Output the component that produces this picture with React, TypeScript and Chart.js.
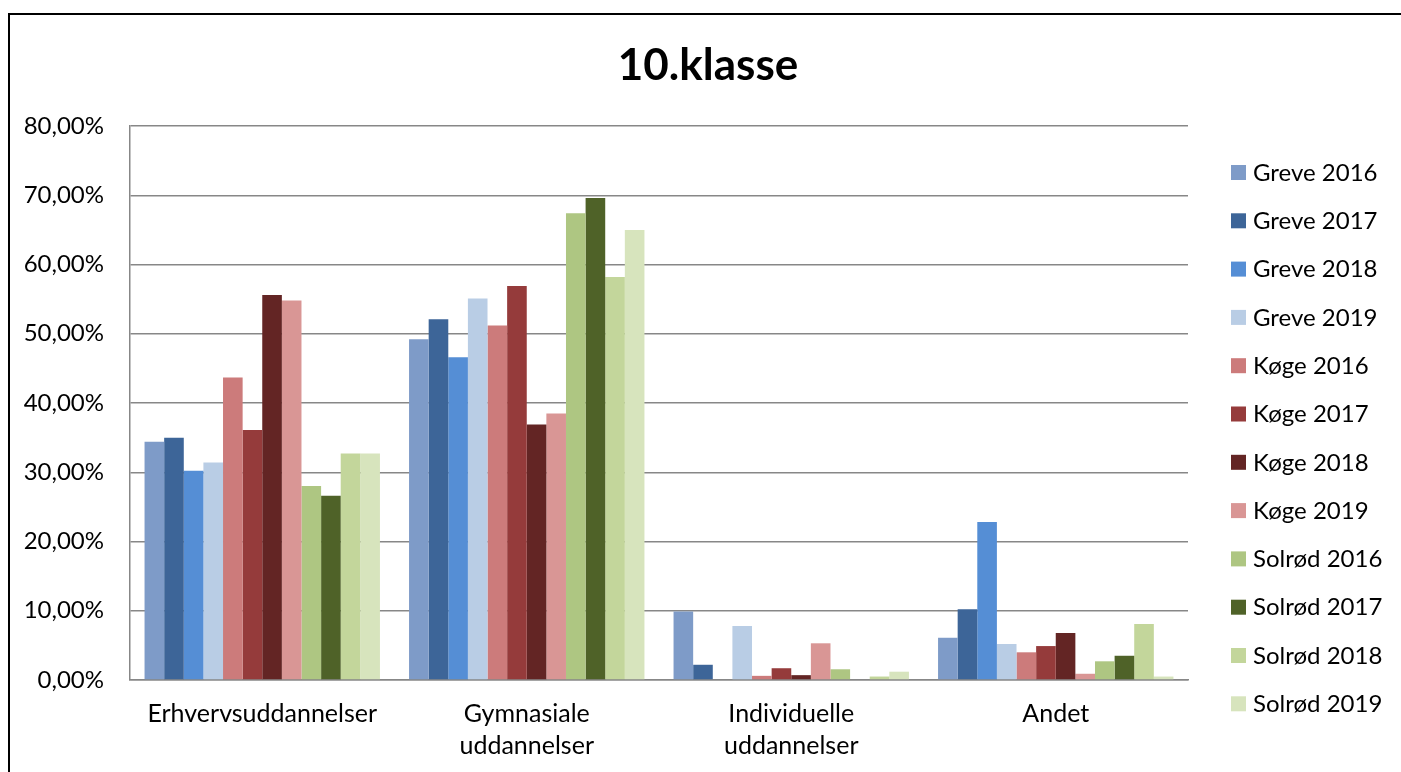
import React, { useEffect, useRef } from "react";
import { Chart, registerables } from "chart.js";

Chart.register(...registerables);

const TITLE = "10.klasse";
const categories: string[][] = [
  ["Erhvervsuddannelser"],
  ["Gymnasiale", "uddannelser"],
  ["Individuelle", "uddannelser"],
  ["Andet"],
];
const seriesNames = [
  "Greve 2016", "Greve 2017", "Greve 2018", "Greve 2019",
  "Køge 2016", "Køge 2017", "Køge 2018", "Køge 2019",
  "Solrød 2016", "Solrød 2017", "Solrød 2018", "Solrød 2019",
];
const seriesColors = [
  "#7E9BC8", "#3D6598", "#558ED5", "#B9CDE5",
  "#CC7B7B", "#953B3B", "#632524", "#D99695",
  "#AEC682", "#4F6228", "#C3D69B", "#D7E4BD",
];
// values in percent, per series: [Erhverv, Gymnasiale, Individuelle, Andet]
const greve2016 = [34.4, 49.2, 9.9, 6.1];
const greve2017 = [35.0, 52.1, 2.2, 10.2];
const greve2018 = [30.2, 46.6, 0, 22.8];
const greve2019 = [31.4, 55.1, 7.8, 5.2];
const koge2016 = [43.7, 51.2, 0.6, 4.0];
const koge2017 = [36.1, 56.9, 1.7, 4.9];
const koge2018 = [55.6, 36.9, 0.7, 6.8];
const koge2019 = [54.8, 38.5, 5.3, 0.9];
const solrod2016 = [28.0, 67.4, 1.55, 2.7];
const solrod2017 = [26.6, 69.6, 0, 3.5];
const solrod2018 = [32.7, 58.2, 0.5, 8.1];
const solrod2019 = [32.7, 65.0, 1.2, 0.5];
const seriesValues = [
  greve2016, greve2017, greve2018, greve2019,
  koge2016, koge2017, koge2018, koge2019,
  solrod2016, solrod2017, solrod2018, solrod2019,
];
const yMax = 80;
const yStep = 10;

const FONT = "Lato, 'Open Sans', sans-serif";

export default function App() {
  const ref = useRef<HTMLCanvasElement | null>(null);
  useEffect(() => {
    document.body.style.overflow = "hidden";
    document.documentElement.style.overflow = "hidden";
    const canvas = ref.current;
    if (!canvas) return;
    const overlay = {
      id: "overlay",
      afterDraw(chart: any) {
        const ctx = chart.ctx;
        ctx.save();
        ctx.fillStyle = "#000";
        ctx.font = `bold 44px ${FONT}`;
        ctx.textAlign = "center";
        ctx.textBaseline = "middle";
        ctx.fillText(TITLE, 708, 66);
        ctx.font = `24px ${FONT}`;
        ctx.textAlign = "left";
        seriesNames.forEach((name, i) => {
          const y = 172 + i * 48.3;
          ctx.fillStyle = seriesColors[i];
          ctx.fillRect(1231, y - 7, 15, 15);
          ctx.fillStyle = "#000";
          ctx.fillText(name, 1253, y + 1);
        });
        ctx.restore();
      },
    };
    const chart = new Chart(canvas, {
      type: "bar",
      data: {
        labels: categories as any,
        datasets: seriesNames.map((name, i) => ({
          label: name,
          data: seriesValues[i],
          backgroundColor: seriesColors[i],
          borderWidth: 0,
          categoryPercentage: 0.89,
          barPercentage: 1,
        })),
      },
      options: {
        animation: false,
        responsive: false,
        maintainAspectRatio: false,
        layout: { padding: { top: 126, right: 213, left: 0, bottom: 0 } },
        plugins: {
          legend: { display: false },
          title: { display: false },
          tooltip: { enabled: false },
        },
        scales: {
          x: {
            grid: { display: false, drawTicks: false },
            border: { display: true, color: "#878787", width: 1.5 },
            ticks: {
              color: "#000",
              font: { family: FONT, size: 25, lineHeight: 1.28 },
              padding: 18,
              maxRotation: 0,
              autoSkip: false,
            },
            afterFit: (s: any) => { s.height = 92; },
          },
          y: {
            min: 0,
            max: yMax,
            grid: { color: "#878787", lineWidth: 1.5, drawTicks: false },
            border: { display: true, color: "#878787", width: 1.5 },
            ticks: {
              stepSize: yStep,
              color: "#000",
              padding: 26,
              font: { family: FONT, size: 24 },
              callback: (v: any) => Number(v).toFixed(2).replace(".", ",") + "%",
            },
            afterFit: (s: any) => { s.width = 130; },
          },
        },
      },
      plugins: [overlay],
    } as any);
    return () => chart.destroy();
  }, []);
  return (
    <div>
      <div
        style={{
          position: "absolute",
          left: 8,
          top: 13,
          width: 1500,
          height: 900,
          borderTop: "2px solid #000",
          borderLeft: "2px solid #000",
        }}
      />
      <canvas
        ref={ref}
        width={1401}
        height={772}
        style={{ position: "absolute", left: 0, top: 0, width: 1401, height: 772 }}
      />
    </div>
  );
}
